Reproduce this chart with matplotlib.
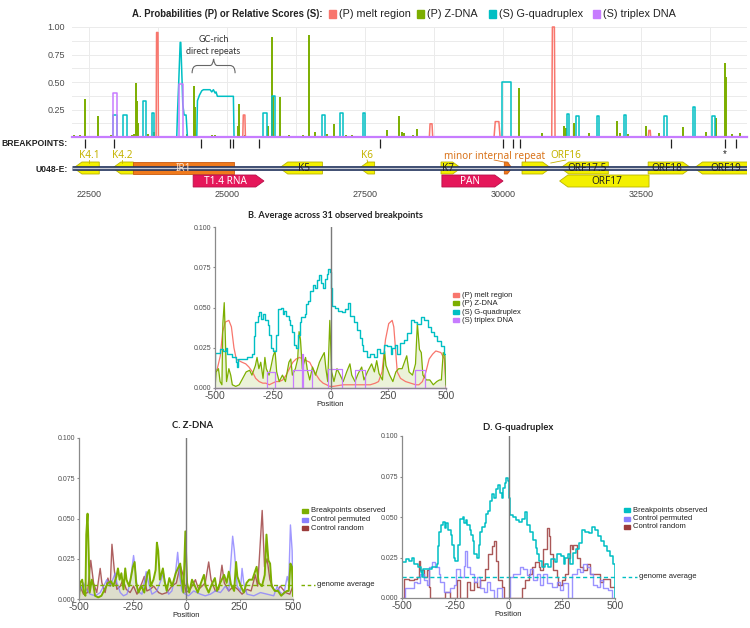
import matplotlib
matplotlib.use("Agg")
import matplotlib.pyplot as plt
from matplotlib.patches import Polygon, Rectangle, PathPatch
from matplotlib.path import Path

plt.rcParams["font.family"] = ["Liberation Sans", "DejaVu Sans"]

W, H = 750, 628

MELT = "#f8766d"
ZDNA = "#7cae00"
G4 = "#00bfc4"
TRIPLEX = "#c77cff"
PERM = "#8a80ff"
RAND = "#9b3b3b"

# ---------------- panel A: genome tracks ----------------
zdna_peak_pos = [22228, 22337, 22428, 22657, 22893, 23285, 23310, 23351, 23375, 23394,
                 23575, 23683, 24269, 24408, 24426, 24722, 24782, 25192, 25210, 25331,
                 25741, 25813, 25831, 25965, 26116, 26375, 26491, 26600, 26817, 26931,
                 27154, 27263, 27897, 28109, 28169, 28207, 28364, 28436, 29281, 30284,
                 30701, 31111, 31135, 31286, 31563, 32071, 32120, 32265, 32591, 32832,
                 33267, 33678, 33853, 34022, 34034, 34143, 34294]
zdna_peak_h = [0.02, 0.02, 0.35, 0.19, 0.02, 0.02, 0.03, 0.49, 0.33, 0.13,
               0.03, 0.05, 0.03, 0.46, 0.27, 0.02, 0.02, 0.10, 0.30, 0.02,
               0.10, 0.91, 0.37, 0.36, 0.02, 0.02, 0.93, 0.05, 0.03, 0.12,
               0.02, 0.02, 0.06, 0.19, 0.05, 0.04, 0.02, 0.07, 0.01, 0.45,
               0.04, 0.10, 0.08, 0.13, 0.04, 0.15, 0.04, 0.03, 0.10, 0.04,
               0.09, 0.05, 0.17, 0.67, 0.55, 0.03, 0.04]

g4_box_start = [22941, 23122, 23472, 23641, 25658, 25815, 26721, 27047, 27458,
                29982, 31154, 31322, 31709, 32186, 32923, 33448, 33781]
g4_box_end = [23013, 23183, 23533, 23683, 25730, 25864, 26770, 27096, 27500,
              30145, 31196, 31382, 31734, 32228, 32977, 33473, 33841]
g4_box_h = [0.20, 0.20, 0.33, 0.22, 0.22, 0.37, 0.20, 0.22, 0.22,
            0.50, 0.21, 0.19, 0.19, 0.20, 0.19, 0.27, 0.19]
g4_big_x = [24088, 24100, 24124, 24150, 24161, 24185, 24197, 24221, 24257, 24281]
g4_big_y = [0, 0.20, 0.50, 0.86, 0.86, 0.50, 0.30, 0.20, 0.20, 0]
gc_repeat_x = [24451, 24463, 24499, 24541, 24571, 24692, 24722, 24752, 24782,
               24800, 24824, 25114, 25126]
gc_repeat_y = [0, 0.33, 0.38, 0.42, 0.43, 0.43, 0.41, 0.43, 0.40, 0.41, 0.37, 0.37, 0]

melt_start = [23714, 25284, 28665, 29837, 30882, 32633]
melt_end = [23756, 25332, 28725, 29946, 30942, 32675]
melt_h = [0.95, 0.20, 0.12, 0.14, 1.00, 0.06]

triplex_start = [22941, 24136]
triplex_end = [23013, 24197]
triplex_h = [0.40, 0.48]

breakpoints = [22428, 22951, 24520, 25061, 25115, 25584, 27767, 30004, 30184,
               30310, 33052, 34026, 34225]
starred_bp = 34026

gene_name = ["K4.1", "K4.2", "IR1", "T1.4 RNA", "K5", "K6", "K7", "PAN",
             "minor internal repeat", "ORF16", "ORF17.5", "ORF17", "ORF18", "ORF19"]
gene_start = [22220, 22925, 23302, 24385, 25949, 27400, 28876, 28892, 30023,
              30344, 31041, 31025, 32629, 33463]
gene_end = [22684, 23302, 25123, 25668, 26727, 27673, 29237, 30000, 30160,
            30865, 31907, 32645, 33407, 34490]
gene_strand = [-1, -1, 0, 1, -1, -1, 1, 1, 1, 1, -1, -1, 1, -1]
gene_row = [0, 0, 0, 1, 0, 0, 0, 1, 0, 0, 0, 1, 0, 0]
gene_kind = ["orf", "orf", "repeat", "rna", "orf", "orf", "orf", "rna", "repeat",
             "orf", "orf", "orf", "orf", "orf"]
gene_label_x = [22500, 23101, None, None, None, 27537, None, None, 29838, 31137,
                None, None, None, None]

# ---------------- panels B-D: profiles around breakpoints ----------------
melt_pos = [-500, -490, -477, -467, -455, -440, -429, -418, -408, -397,
            -383, -367, -353, -338, -324, -309, -293, -280, -265, -251,
            -236, -222, -207, -192, -178, -163, -149, -134, -120, -105,
            -90, -76, -61, -47, -32, -17, -3, 12, 55, 99,
            143, 172, 194, 208, 223, 238, 252, 267, 274, 281,
            289, 303, 325, 347, 369, 383, 398, 413, 427, 442,
            456, 478, 493, 500]
melt_val = [0.010, 0.012, 0.020, 0.035, 0.041, 0.042, 0.038, 0.025, 0.018, 0.017,
            0.016, 0.015, 0.013, 0.010, 0.006, 0.004, 0.003, 0.003, 0.002, 0.003,
            0.004, 0.004, 0.005, 0.008, 0.012, 0.016, 0.018, 0.019, 0.018, 0.017,
            0.016, 0.012, 0.008, 0.005, 0.003, 0.002, 0.001, 0.001, 0.002, 0.002,
            0.002, 0.002, 0.003, 0.004, 0.010, 0.030, 0.040, 0.042, 0.038, 0.025,
            0.010, 0.006, 0.004, 0.003, 0.002, 0.002, 0.004, 0.010, 0.018, 0.021,
            0.023, 0.022, 0.018, 0.000]

zdna_pos = [-500, -495, -485, -478, -470, -466, -460, -455, -450, -440,
            -432, -425, -410, -395, -380, -365, -350, -340, -325, -318,
            -310, -302, -292, -284, -278, -266, -258, -248, -240, -233,
            -222, -208, -195, -180, -172, -165, -152, -142, -136, -130,
            -122, -108, -100, -90, -78, -65, -48, -38, -27, -20,
            -12, -3, 5, 15, 28, 42, 55, 70, 84, 92,
            106, 120, 135, 145, 160, 178, 190, 200, 210, 225,
            234, 240, 256, 270, 283, 295, 310, 330, 340, 355,
            368, 376, 385, 393, 400, 415, 430, 445, 460, 472,
            480, 488, 495, 500]
zdna_val = [0.000, 0.010, 0.012, 0.004, 0.002, 0.040, 0.053, 0.030, 0.004, 0.012,
            0.008, 0.002, 0.001, 0.002, 0.006, 0.010, 0.011, 0.008, 0.014, 0.019,
            0.012, 0.016, 0.006, 0.019, 0.012, 0.008, 0.013, 0.020, 0.023, 0.010,
            0.004, 0.008, 0.004, 0.016, 0.018, 0.008, 0.012, 0.018, 0.035, 0.030,
            0.012, 0.019, 0.011, 0.005, 0.013, 0.008, 0.016, 0.019, 0.022, 0.012,
            0.004, 0.042, 0.010, 0.004, 0.012, 0.008, 0.004, 0.010, 0.015, 0.008,
            0.004, 0.009, 0.013, 0.005, 0.010, 0.015, 0.010, 0.017, 0.009, 0.005,
            0.023, 0.014, 0.008, 0.004, 0.010, 0.012, 0.012, 0.020, 0.010, 0.008,
            0.015, 0.040, 0.024, 0.022, 0.008, 0.005, 0.005, 0.002, 0.004, 0.005,
            0.005, 0.022, 0.020, 0.002]

g4_pos = [-500, -499, -480, -465, -452, -446, -425, -410, -405, -400,
          -382, -360, -338, -330, -325, -315, -308, -300, -293, -285,
          -272, -265, -258, -250, -238, -229, -215, -207, -200, -193,
          -180, -175, -168, -160, -150, -140, -133, -126, -112, -105,
          -98, -88, -76, -68, -60, -50, -40, -32, -25, -17,
          -10, -3, 2, 5, 19, 34, 48, 63, 77, 85,
          100, 113, 128, 135, 142, 157, 172, 187, 201, 216,
          230, 245, 260, 267, 281, 289, 303, 318, 332, 347,
          361, 376, 390, 405, 420, 434, 449, 463, 478, 492,
          499, 500]
g4_val = [0.012, 0.022, 0.024, 0.023, 0.025, 0.021, 0.019, 0.016, 0.013, 0.018,
          0.018, 0.019, 0.021, 0.032, 0.041, 0.045, 0.047, 0.043, 0.046, 0.042,
          0.039, 0.033, 0.025, 0.023, 0.033, 0.049, 0.050, 0.046, 0.048, 0.045,
          0.042, 0.039, 0.035, 0.027, 0.025, 0.033, 0.041, 0.044, 0.046, 0.052,
          0.054, 0.060, 0.064, 0.062, 0.067, 0.070, 0.065, 0.062, 0.068, 0.071,
          0.074, 0.072, 0.062, 0.051, 0.050, 0.048, 0.047, 0.049, 0.053, 0.045,
          0.041, 0.036, 0.031, 0.027, 0.023, 0.019, 0.021, 0.019, 0.024, 0.022,
          0.027, 0.026, 0.021, 0.025, 0.027, 0.021, 0.028, 0.030, 0.034, 0.042,
          0.041, 0.040, 0.044, 0.042, 0.038, 0.035, 0.032, 0.029, 0.026, 0.021,
          0.014, 0.000]

trip_start = [-276, -161, -125, -10, 108, 364]
trip_end = [-240, -79, -117, 50, 151, 407]
trip_h = [0.010, 0.011, 0.021, 0.012, 0.011, 0.011]

zperm_pos = [-495, -479, -466, -448, -424, -401, -385, -370, -354, -331,
             -323, -307, -292, -276, -261, -245, -237, -226, -206, -186,
             -175, -159, -136, -105, -94, -81, -66, -50, -39, -30,
             -19, -3, 12, 36, 51, 67, 90, 114, 137, 161,
             184, 200, 218, 226, 239, 254, 262, 270, 285, 317,
             348, 379, 410, 426, 441, 457, 473, 480, 488, 496, 500]
zperm_val = [0.005, 0.010, 0.006, 0.003, 0.002, 0.004, 0.008, 0.012, 0.008, 0.016,
             0.010, 0.004, 0.002, 0.003, 0.010, 0.027, 0.018, 0.005, 0.003, 0.017,
             0.010, 0.003, 0.005, 0.016, 0.008, 0.003, 0.005, 0.015, 0.029, 0.015,
             0.005, 0.003, 0.002, 0.005, 0.004, 0.003, 0.002, 0.003, 0.005, 0.004,
             0.008, 0.005, 0.039, 0.030, 0.008, 0.005, 0.019, 0.010, 0.003, 0.002,
             0.004, 0.003, 0.002, 0.008, 0.004, 0.003, 0.014, 0.010, 0.046, 0.030, 0.002]

zrand_pos = [-495, -479, -460, -445, -432, -417, -401, -393, -378, -365,
             -354, -346, -335, -323, -307, -295, -279, -261, -245, -229,
             -206, -195, -183, -167, -151, -128, -112, -89, -66, -45,
             -27, -14, 0, 20, 44, 59, 75, 90, 106, 117,
             137, 153, 168, 179, 200, 223, 242, 262, 285, 304,
             324, 335, 356, 367, 379, 392, 410, 426, 441, 465, 485, 500]
zrand_val = [0.008, 0.003, 0.004, 0.024, 0.010, 0.004, 0.019, 0.010, 0.004, 0.013,
             0.008, 0.034, 0.018, 0.006, 0.008, 0.012, 0.006, 0.004, 0.008, 0.003,
             0.010, 0.014, 0.005, 0.006, 0.008, 0.004, 0.003, 0.004, 0.008, 0.010,
             0.021, 0.015, 0.004, 0.006, 0.012, 0.006, 0.008, 0.010, 0.023, 0.012,
             0.005, 0.006, 0.021, 0.010, 0.005, 0.008, 0.006, 0.003, 0.006, 0.005,
             0.015, 0.008, 0.055, 0.020, 0.025, 0.012, 0.006, 0.005, 0.008, 0.004,
             0.003, 0.008]

gperm_pos = [-500, -484, -453, -445, -430, -414, -398, -383, -375, -359,
             -344, -328, -320, -305, -273, -258, -245, -234, -227, -211,
             -203, -195, -180, -164, -148, -133, -117, -102, -86, -70,
             -55, -31, 8, 23, 55, 70, 86, 102, 117, 133,
             148, 164, 180, 203, 227, 242, 258, 281, 297, 320,
             336, 352, 367, 383, 398, 414, 430, 445, 469, 484, 500]
gperm_val = [0.000, 0.006, 0.006, 0.010, 0.009, 0.015, 0.011, 0.008, 0.019, 0.022,
             0.019, 0.015, 0.010, 0.004, 0.006, 0.008, 0.018, 0.018, 0.013, 0.020,
             0.029, 0.019, 0.015, 0.010, 0.013, 0.006, 0.004, 0.010, 0.005, 0.000,
             0.006, 0.000, 0.013, 0.015, 0.019, 0.018, 0.014, 0.018, 0.011, 0.015,
             0.008, 0.015, 0.009, 0.007, 0.010, 0.005, 0.009, 0.000, 0.015, 0.018,
             0.016, 0.021, 0.019, 0.015, 0.008, 0.007, 0.011, 0.006, 0.005, 0.000, 0.000]

grand_pos = [-500, -492, -469, -445, -430, -422, -414, -398, -383, -375,
             -367, -297, -273, -242, -227, -195, -180, -164, -148, -133,
             -109, -94, -78, -67, -58, -47, -31, -23, 63, 78,
             94, 109, 125, 141, 148, 164, 180, 188, 195, 211,
             227, 234, 250, 266, 281, 289, 297, 305, 320, 336,
             352, 367, 383, 414, 430, 445, 477, 500]
grand_val = [0.000, 0.012, 0.011, 0.012, 0.013, 0.023, 0.017, 0.013, 0.017, 0.007,
             0.000, 0.004, 0.000, 0.011, 0.000, 0.010, 0.005, 0.010, 0.007, 0.011,
             0.018, 0.027, 0.032, 0.035, 0.023, 0.011, 0.007, 0.000, 0.006, 0.011,
             0.015, 0.019, 0.022, 0.019, 0.017, 0.030, 0.043, 0.038, 0.027, 0.017,
             0.013, 0.008, 0.011, 0.015, 0.025, 0.033, 0.030, 0.033, 0.025, 0.019,
             0.017, 0.021, 0.015, 0.015, 0.010, 0.012, 0.007, 0.000]

zdna_genome_avg = 0.009
g4_genome_avg = 0.013

fig = plt.figure(figsize=(7.5, 6.28), dpi=100)


def px_axes(x0, y0, x1, y1):
    return fig.add_axes([x0 / W, 1 - y1 / H, (x1 - x0) / W, (y1 - y0) / H])


def fx(x):
    return x / W


def fy(y):
    return 1 - y / H


XMIN, XMAX = 22190, 34420

# ---- A: tracks ----
axA = px_axes(72, 27, 747, 137)
axA.set_xlim(XMIN, XMAX)
axA.set_ylim(0, 1.0)
axA.set_xticks([22500, 25000, 27500, 30000, 32500])
axA.set_xticks([23750, 26250, 28750, 31250, 33750], minor=True)
axA.set_yticks([0.25, 0.5, 0.75, 1.0])
axA.set_yticklabels(["0.25", "0.50", "0.75", "1.00"])
axA.set_yticks([0.125, 0.375, 0.625, 0.875], minor=True)
axA.grid(True, which="both", color="#ebebeb", lw=0.7)
axA.set_axisbelow(True)
axA.tick_params(which="both", length=0, labelbottom=False)
axA.tick_params(axis="y", labelsize=6.5, labelcolor="#4d4d4d", pad=5)
for s in axA.spines.values():
    s.set_visible(False)

axA.vlines(zdna_peak_pos, 0, zdna_peak_h, color=ZDNA, lw=1.4, clip_on=False)
for s, e, h in zip(g4_box_start, g4_box_end, g4_box_h):
    axA.plot([s, s, e, e], [0, h, h, 0], color=G4, lw=1.1, clip_on=False)
axA.plot(g4_big_x, g4_big_y, color=G4, lw=1.1)
axA.plot(gc_repeat_x, gc_repeat_y, color=G4, lw=1.1)
for s, e, h in zip(melt_start, melt_end, melt_h):
    d = (e - s) * 0.2
    axA.plot([s, s + d, e - d, e], [0, h, h, 0], color=MELT, lw=1.1,
             clip_on=False, solid_joinstyle="round")
for s, e, h in zip(triplex_start, triplex_end, triplex_h):
    axA.plot([s, s, e, e], [0, h, h, 0], color=TRIPLEX, lw=1.1, clip_on=False)
axA.plot([XMIN, XMAX], [0, 0], color=TRIPLEX, lw=1.6, clip_on=False)

# GC-rich brace annotation
bx0, bx1 = 24366, 25145
bm = (bx0 + bx1) / 2
bw = bx1 - bx0
verts = [(bx0, 0.58), (bx0, 0.65), (bx0 + 0.12 * bw, 0.65),
         (bm - 0.08 * bw, 0.65), (bm - 0.02 * bw, 0.65), (bm, 0.71),
         (bm + 0.02 * bw, 0.65), (bm + 0.08 * bw, 0.65),
         (bx1 - 0.12 * bw, 0.65), (bx1, 0.65), (bx1, 0.58)]
codes = [Path.MOVETO, Path.CURVE3, Path.CURVE3, Path.LINETO, Path.CURVE3, Path.CURVE3,
         Path.CURVE3, Path.CURVE3, Path.LINETO, Path.CURVE3, Path.CURVE3]
axA.add_patch(PathPatch(Path(verts, codes), fill=False, ec="#666666", lw=0.8))
axA.text(bm, 0.89, "GC-rich", ha="center", va="center", fontsize=6.5,
         family=["Lato", "DejaVu Sans"], color="#333333")
axA.text(bm, 0.78, "direct repeats", ha="center", va="center", fontsize=6.5,
         family=["Lato", "DejaVu Sans"], color="#333333")

# title + legend of panel A
fig.text(fx(132), fy(14), "A. Probabilities (P) or Relative Scores (S):",
         fontsize=6.9, fontweight="bold", va="center", color="#222222")
leg_items = [("(P) melt region", MELT, 329), ("(P) Z-DNA", ZDNA, 417),
             ("(S) G-quadruplex", G4, 489), ("(S) triplex DNA", TRIPLEX, 593)]
for lab, col, x in leg_items:
    fig.patches.append(Rectangle((fx(x), fy(18)), 7 / W, 8 / H, color=col,
                                 transform=fig.transFigure))
    fig.text(fx(x + 10), fy(14), lab, fontsize=7.8, va="center", color="#222222")

# ---- A: breakpoints + gene map ----
axG = px_axes(72, 137, 747, 188)
axG.set_xlim(XMIN, XMAX)
axG.set_ylim(188, 137)
axG.vlines(breakpoints, 139, 148, color="#222222", lw=0.9)
axG.text(starred_bp, 154, "*", ha="center", va="center", fontsize=7, color="#222222")
axG.plot([XMIN, XMAX], [168, 168], color="#26365f", lw=3.4, solid_capstyle="butt")
axG.plot([XMIN, XMAX], [168, 168], color="#c9ccd6", lw=1.0, solid_capstyle="butt")

row_y = [168, 181]
head = 150
hh = 6.0
face = {"orf": "#f3f000", "repeat": "#f07a1c", "rna": "#e5175a"}
edge = {"orf": "#b9b400", "repeat": "#c85a10", "rna": "#b8104a"}
tcol = {"orf": "#222222", "repeat": "#ffe3cc", "rna": "#ffffff"}
for name, s, e, sd, r, k, lx in zip(gene_name, gene_start, gene_end, gene_strand,
                                    gene_row, gene_kind, gene_label_x):
    c = row_y[r]
    hd = min(head, (e - s) * 0.6)
    if sd > 0:
        pts = [(s, c - hh), (e - hd, c - hh), (e, c), (e - hd, c + hh), (s, c + hh)]
    elif sd < 0:
        pts = [(s, c), (s + hd, c - hh), (e, c - hh), (e, c + hh), (s + hd, c + hh)]
    else:
        pts = [(s, c - hh), (e, c - hh), (e, c + hh), (s, c + hh)]
    axG.add_patch(Polygon(pts, closed=True, fc=face[k], ec=edge[k], lw=0.6))
    if lx is None:
        mid = (s + e) / 2 + (hd / 3 if sd < 0 else -hd / 3 if sd > 0 else 0)
        axG.text(mid, c + 0.3, name, ha="center", va="center", fontsize=7.2,
                 color=tcol[k], family=["Noto Sans", "DejaVu Sans"])
    else:
        lc = "#d9731a" if k == "repeat" else "#c4b300"
        axG.text(lx, 156, name, ha="center", va="center", fontsize=7.2,
                 color=lc, family=["Noto Sans", "DejaVu Sans"])
        axG.plot([lx, min(max(lx, s + hd), e)], [160, 163], color=lc, lw=0.6)

axG.set_xticks([22500, 25000, 27500, 30000, 32500])
axG.set_xticklabels(["22500", "25000", "27500", "30000", "32500"])
axG.tick_params(axis="x", length=0, labelsize=6.5, labelcolor="#444444", pad=1.5)
axG.set_yticks([])
for s in axG.spines.values():
    s.set_visible(False)
axG.patch.set_alpha(0)

fig.text(fx(68), fy(143), "BREAKPOINTS:", ha="right", va="center", fontsize=6.2,
         fontweight="bold", color="#222222")
fig.text(fx(68), fy(169), "U048-E:", ha="right", va="center", fontsize=6.2,
         fontweight="bold", color="#222222")


# ---- profile panels ----
def style_profile(ax):
    ax.set_xlim(-500, 500)
    ax.set_ylim(0, 0.1)
    ax.set_xticks([-500, -250, 0, 250, 500])
    ax.set_xticklabels(["-500", "-250", "0", "250", "500"])
    ax.set_yticks([0, 0.025, 0.05, 0.075, 0.1])
    ax.set_yticklabels(["0.000", "0.025", "0.050", "0.075", "0.100"])
    ax.tick_params(axis="y", labelsize=5, labelcolor="#4d4d4d", length=1.5,
                   color="#8a8a8a", pad=1)
    ax.tick_params(axis="x", labelsize=7.5, labelcolor="#4d4d4d", length=1.5,
                   color="#8a8a8a", pad=0.5)
    for s in ["top", "right"]:
        ax.spines[s].set_visible(False)
    for s in ["left", "bottom"]:
        ax.spines[s].set_color("#8a8a8a")
        ax.spines[s].set_linewidth(0.9)
    ax.axvline(0, color="#7a7a7a", lw=1.0, zorder=5)
    ax.set_xlabel("Position", fontsize=5.5, labelpad=0.5, color="#222222")


def legend_block(x, ys, labels, colors):
    for y, lab, col in zip(ys, labels, colors):
        fig.patches.append(Rectangle((fx(x), fy(y + 2)), 6 / W, 4 / H, color=col,
                                     transform=fig.transFigure))
        fig.text(fx(x + 9), fy(y), lab, fontsize=5.5, va="center", color="#222222")


def genome_avg_key(x0, x1, y, col):
    fig.add_artist(plt.Line2D([fx(x0), fx(x1)], [fy(y), fy(y)], color=col,
                              lw=1.0, ls=(0, (2.5, 2))))
    fig.text(fx(x1 + 2), fy(y), "genome average", fontsize=5.5, va="center",
             color="#222222")


title_font = ["Lato", "DejaVu Sans"]

# B
axB = px_axes(215, 227, 446, 388)
style_profile(axB)
axB.plot(melt_pos, melt_val, color=MELT, lw=0.9)
axB.fill_between(zdna_pos, zdna_val, color=ZDNA, alpha=0.15, lw=0)
axB.plot(zdna_pos, zdna_val, color=ZDNA, lw=0.9)
axB.step(g4_pos, g4_val, where="post", color=G4, lw=1.0)
for s, e, h in zip(trip_start, trip_end, trip_h):
    axB.plot([s, s, e, e], [0, h, h, 0], color=TRIPLEX, lw=0.9)
axB.plot([-500, 500], [0, 0], color=TRIPLEX, lw=1.0, clip_on=False)
fig.text(fx(335), fy(215), "B. Average across 31 observed breakpoints", ha="center",
         va="center", fontsize=6.6, fontweight="bold", family=title_font, color="#222222")
legend_block(453, [295, 303, 312, 320],
             ["(P) melt region", "(P) Z-DNA", "(S) G-quadruplex", "(S) triplex DNA"],
             [MELT, ZDNA, G4, TRIPLEX])

# C
axC = px_axes(79, 438, 293, 599)
style_profile(axC)
axC.fill_between(zrand_pos, zrand_val, color=RAND, alpha=0.08, lw=0)
axC.plot(zrand_pos, zrand_val, color=RAND, lw=1.0, alpha=0.8)
axC.fill_between(zperm_pos, zperm_val, color=PERM, alpha=0.08, lw=0)
axC.plot(zperm_pos, zperm_val, color=PERM, lw=1.0, alpha=0.8)
axC.fill_between(zdna_pos, zdna_val, color=ZDNA, alpha=0.15, lw=0)
axC.plot(zdna_pos, zdna_val, color=ZDNA, lw=1.4)
axC.axhline(zdna_genome_avg, color=ZDNA, lw=1.0, ls=(0, (3, 2)))
fig.text(fx(193), fy(426), "C. Z-DNA", ha="center", va="center", fontsize=6.8,
         fontweight="bold", family=title_font, color="#222222")
legend_block(302, [511, 519.5, 528],
             ["Breakpoints observed", "Control permuted", "Control random"],
             [ZDNA, PERM, RAND])
genome_avg_key(301, 315, 585, ZDNA)

# D
axD = px_axes(402, 436, 615, 598)
style_profile(axD)
axD.step(grand_pos, grand_val, where="post", color=RAND, lw=1.0, alpha=0.85)
axD.step(gperm_pos, gperm_val, where="post", color=PERM, lw=1.0, alpha=0.85)
axD.step(g4_pos, g4_val, where="post", color=G4, lw=1.1)
axD.axhline(g4_genome_avg, color=G4, lw=1.0, ls=(0, (3, 2)))
fig.text(fx(518), fy(427), "D. G-quadruplex", ha="center", va="center", fontsize=6.8,
         fontweight="bold", family=title_font, color="#222222")
legend_block(624, [510, 518.5, 527],
             ["Breakpoints observed", "Control permuted", "Control random"],
             [G4, PERM, RAND])
genome_avg_key(622, 637, 577, G4)

fig.savefig("out.png", dpi=100)
